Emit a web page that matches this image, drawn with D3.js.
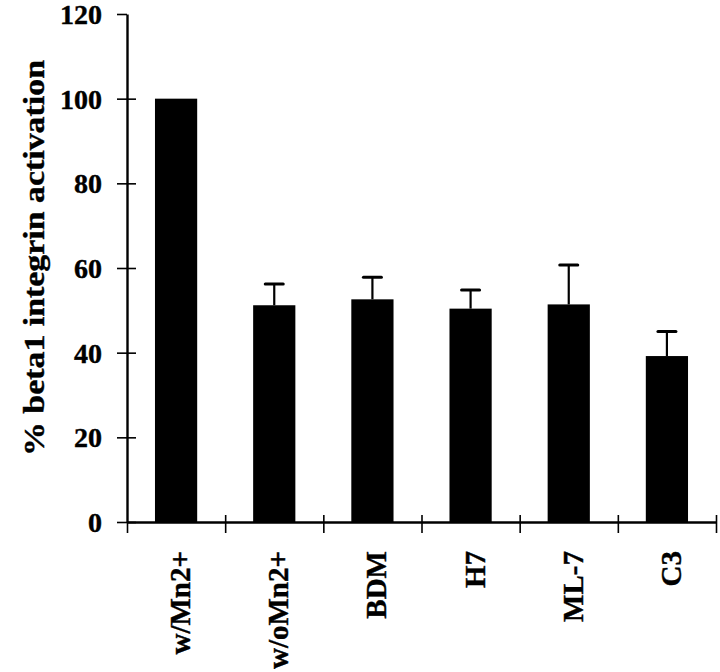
<!DOCTYPE html>
<html>
<head>
<meta charset="utf-8">
<script src="https://cdn.jsdelivr.net/npm/d3@7"></script>
<style>
    body { margin: 0; background: #fff; }
    svg text { font-family: "Liberation Serif", "Times New Roman", serif; font-weight: bold; fill: #000; stroke: #000; stroke-width: 0.4px; }
</style>
</head>
<body>
<div id="chart"></div>
<script>
// values
var categories = ["w/Mn2+", "w/oMn2+", "BDM", "H7", "ML-7", "C3"];
var values = [100, 51.2, 52.6, 50.4, 51.4, 39.2];
var errors = [0, 5.0, 5.2, 4.4, 9.3, 5.8];
var yTicks = [0, 20, 40, 60, 80, 100, 120];
var yTitle = "% beta1 integrin activation";

var width = 720;
var height = 672;
var margin = { top: 14, right: 4, bottom: 150, left: 127 };

var svg = d3.select("#chart").append("svg")
    .attr("width", width)
    .attr("height", height);

var y = d3.scaleLinear()
    .domain([0, 120])
    .range([height - margin.bottom, margin.top]);

var x = d3.scaleBand()
    .domain(categories)
    .range([margin.left, width - margin.right])
    .paddingInner(0.57)
    .paddingOuter(0.285);

// band edges, used for the x-axis tick marks
var xEdge = d3.scaleLinear()
    .domain([0, categories.length])
    .range([margin.left, width - margin.right]);

// bars
svg.selectAll(".bar")
    .data(values)
    .enter().append("rect")
    .attr("class", "bar")
    .attr("x", (d, i) => x(categories[i]))
    .attr("y", d => y(d))
    .attr("width", x.bandwidth())
    .attr("height", d => y(0) - y(d))
    .attr("fill", "#000");

// error bars (upper only)
var eb = svg.selectAll(".err")
    .data(values.map((d, i) => ({ v: d, e: errors[i], c: categories[i] })).filter(d => d.e > 0))
    .enter().append("g")
    .attr("class", "err");

eb.append("line")
    .attr("x1", d => x(d.c) + x.bandwidth() / 2)
    .attr("x2", d => x(d.c) + x.bandwidth() / 2)
    .attr("y1", d => y(d.v))
    .attr("y2", d => y(d.v + d.e))
    .attr("stroke", "#000")
    .attr("stroke-width", 2.2);

eb.append("line")
    .attr("x1", d => x(d.c) + x.bandwidth() / 2 - 9)
    .attr("x2", d => x(d.c) + x.bandwidth() / 2 + 9)
    .attr("y1", d => y(d.v + d.e))
    .attr("y2", d => y(d.v + d.e))
    .attr("stroke", "#000")
    .attr("stroke-width", 3)
    .attr("stroke-linecap", "round");

// y axis
var yAxis = svg.append("g")
    .attr("class", "y-axis")
    .attr("transform", `translate(${margin.left},0)`)
    .call(d3.axisLeft(y).tickValues(yTicks).tickSize(10).tickSizeOuter(0).tickPadding(15));

yAxis.select(".domain").attr("stroke-width", 2.4);
yAxis.selectAll(".tick line").attr("stroke-width", 1.6);
yAxis.selectAll(".tick text")
    .attr("font-size", "28px")
    .attr("font-family", null)
    .attr("dy", "0.34em");

// inner half of the y ticks
yAxis.selectAll(".tick")
    .filter(d => d < 120)
    .append("line")
    .attr("x1", 0)
    .attr("x2", 9)
    .attr("stroke", "#000")
    .attr("stroke-width", 1.6);

// x axis
var xAxis = svg.append("g")
    .attr("class", "x-axis")
    .attr("transform", `translate(0,${y(0)})`)
    .call(d3.axisBottom(xEdge).ticks(categories.length).tickSize(11).tickSizeOuter(0).tickFormat(""));

xAxis.select(".domain").attr("stroke-width", 2.4);
xAxis.selectAll(".tick line").attr("stroke-width", 1.6);

xAxis.selectAll(".tick")
    .filter(d => d > 0)
    .append("line")
    .attr("y1", 0)
    .attr("y2", -7)
    .attr("stroke", "#000")
    .attr("stroke-width", 1.6);

// category labels, rotated
svg.selectAll(".xlabel")
    .data(categories)
    .enter().append("text")
    .attr("class", "xlabel")
    .attr("transform", d => `translate(${x(d) + x.bandwidth() / 2 + 14},${y(0) + 29}) rotate(-90)`)
    .attr("text-anchor", "end")
    .attr("font-size", "29px")
    .text(d => d);

// y title
svg.append("text")
    .attr("transform", `translate(44,${(y(0) + y(120)) / 2 - 10}) rotate(-90)`)
    .attr("text-anchor", "middle")
    .attr("font-size", "30px")
    .attr("textLength", 396)
    .attr("lengthAdjust", "spacingAndGlyphs")
    .text(yTitle);
</script>
</body>
</html>
